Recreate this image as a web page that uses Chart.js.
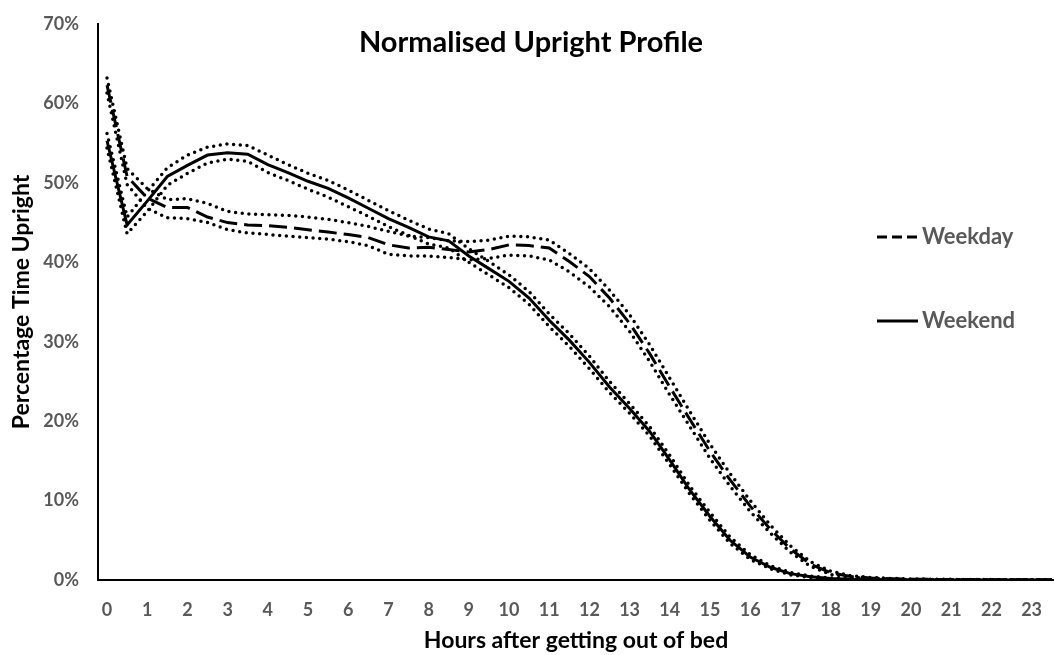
<!DOCTYPE html>
<html>
<head>
<meta charset="utf-8">
<script src="https://cdn.jsdelivr.net/npm/chart.js@4.4.1/dist/chart.umd.min.js"></script>
<style>
  html, body { margin: 0; padding: 0; background: #fff; }
  #wrap { width: 1054px; height: 655px; }
</style>
</head>
<body>
<div id="wrap"><canvas id="myChart"></canvas></div>
<script>
// half-hourly points, hours after getting out of bed
const hours = [0, 0.5, 1, 1.5, 2, 2.5, 3, 3.5, 4, 4.5, 5, 5.5, 6, 6.5, 7, 7.5, 8, 8.5, 9, 9.5,
  10, 10.5, 11, 11.5, 12, 12.5, 13, 13.5, 14, 14.5, 15, 15.5, 16, 16.5, 17, 17.5, 18, 18.5, 19, 19.5,
  20, 20.5, 21, 21.5, 22, 22.5, 23, 23.5];

const xTickLabels = ["0", "1", "2", "3", "4", "5", "6", "7", "8", "9", "10", "11",
  "12", "13", "14", "15", "16", "17", "18", "19", "20", "21", "22", "23"];
const yTickValues = [0, 10, 20, 30, 40, 50, 60, 70];

// % time upright
const weekdayMean = [62.3, 50.8, 48.1, 46.9, 46.9, 45.7, 45.0, 44.7, 44.6, 44.4, 44.1, 43.8, 43.5, 43.1, 42.2, 41.8, 41.9, 41.6, 41.3, 41.6,
  42.2, 42.1, 41.8, 40.1, 38.2, 35.5, 32.3, 28.5, 24.3, 20.2, 16.2, 12.6, 9.3, 6.4, 3.9, 2.0, 0.9, 0.45, 0.25, 0.15,
  0.1, 0.08, 0.06, 0.05, 0.04, 0.03, 0.02, 0.02];
const weekdayUpper = [63.2, 51.8, 49.3, 47.9, 48.0, 47.4, 46.4, 46.1, 46.0, 45.9, 45.7, 45.4, 45.0, 44.5, 43.9, 43.3, 43.1, 42.7, 42.6, 42.8,
  43.3, 43.2, 42.8, 41.1, 39.2, 36.5, 33.4, 29.6, 25.4, 21.2, 17.1, 13.4, 10.0, 6.9, 4.3, 2.3, 1.1, 0.55, 0.3, 0.2,
  0.13, 0.1, 0.08, 0.06, 0.05, 0.04, 0.03, 0.03];
const weekdayLower = [61.3, 49.8, 46.8, 45.6, 45.5, 45.0, 44.1, 43.7, 43.5, 43.3, 43.1, 42.9, 42.6, 42.1, 41.0, 40.8, 40.8, 40.6, 40.3, 40.5,
  40.9, 40.8, 40.3, 38.8, 36.9, 34.4, 31.3, 27.5, 23.3, 19.3, 15.3, 11.8, 8.6, 5.9, 3.5, 1.7, 0.7, 0.35, 0.2, 0.1,
  0.07, 0.05, 0.04, 0.03, 0.02, 0.02, 0.01, 0.01];

const weekendMean = [55.3, 44.7, 47.7, 50.8, 52.2, 53.5, 53.8, 53.6, 52.3, 51.3, 50.2, 49.3, 48.1, 46.8, 45.5, 44.4, 43.2, 42.7, 40.8, 39.2,
  37.6, 35.5, 32.7, 30.2, 27.4, 24.3, 21.6, 18.7, 15.1, 11.3, 8.0, 5.0, 2.9, 1.6, 0.8, 0.4, 0.2, 0.1, 0.05, 0.03,
  0.02, 0.02, 0.01, 0.01, 0.01, 0.01, 0, 0];
const weekendUpper = [56.2, 45.7, 48.9, 51.9, 53.5, 54.5, 54.9, 54.7, 53.5, 52.3, 51.2, 50.3, 49.1, 47.8, 46.5, 45.3, 44.2, 43.6, 41.7, 40.1,
  38.4, 36.3, 33.5, 31.0, 28.2, 25.0, 22.2, 19.3, 15.7, 11.8, 8.5, 5.4, 3.2, 1.8, 0.95, 0.5, 0.25, 0.13, 0.07, 0.05,
  0.03, 0.03, 0.02, 0.02, 0.01, 0.01, 0.01, 0.01];
const weekendLower = [54.4, 43.6, 46.4, 49.7, 51.2, 52.5, 53.0, 52.7, 51.3, 50.3, 49.2, 48.2, 47.0, 45.8, 44.5, 43.4, 42.3, 41.8, 40.0, 38.4,
  36.8, 34.7, 31.9, 29.4, 26.6, 23.6, 21.0, 18.1, 14.5, 10.8, 7.5, 4.6, 2.6, 1.4, 0.65, 0.3, 0.15, 0.07, 0.03, 0.02,
  0.01, 0.01, 0.01, 0, 0, 0, 0, 0];

const chartTitle = "Normalised Upright Profile";
const xTitle = "Hours after getting out of bed";
const yTitle = "Percentage Time Upright";

const FONT = "Lato";
const GREY = "#595959";

const toPoints = (arr) => arr.map((v, i) => ({ x: hours[i], y: v }));

const dotted = (label, arr) => ({
  label: label,
  data: toPoints(arr),
  borderColor: "#000",
  borderWidth: 3.5,
  borderDash: [0, 6.7],
  borderCapStyle: "round",
  pointRadius: 0,
  tension: 0,
  inLegend: false,
});

// title + legend drawn inside the plot area, like the original
const titleAndLegend = {
  id: "titleAndLegend",
  afterDraw(chart) {
    const { ctx, chartArea } = chart;
    ctx.save();
    ctx.fillStyle = "#000";
    ctx.font = `bold 29px ${FONT}`;
    ctx.textAlign = "center";
    ctx.textBaseline = "middle";
    ctx.fillText(chartTitle, chart.width / 2 + 4, chartArea.top + 19);

    const rows = [213, 297]; // offsets from plot top
    const items = chart.data.datasets.filter((d) => d.inLegend);
    items.forEach((d, i) => {
      const y = chartArea.top + rows[i];
      ctx.beginPath();
      ctx.setLineDash(d.borderDash.length ? [10, 5] : []);
      ctx.lineWidth = 3;
      ctx.strokeStyle = "#000";
      ctx.moveTo(chartArea.right - 177, y);
      ctx.lineTo(chartArea.right - 136, y);
      ctx.stroke();
      ctx.setLineDash([]);
      ctx.fillStyle = GREY;
      ctx.font = `bold 22px ${FONT}`;
      ctx.textAlign = "left";
      ctx.fillText(d.label, chartArea.right - 132, y);
    });
    ctx.restore();
  },
};

// invisible tick marks give the label gap without extra scale padding
const hiddenTicks = { display: true, drawOnChartArea: false, drawTicks: true, tickLength: 19, tickColor: "rgba(0,0,0,0)" };

const ctx = document.getElementById("myChart").getContext("2d");
const myChart = new Chart(ctx, {
  type: "line",
  data: {
    datasets: [
      dotted("Weekday upper", weekdayUpper),
      dotted("Weekday lower", weekdayLower),
      {
        label: "Weekday",
        data: toPoints(weekdayMean),
        borderColor: "#000",
        borderWidth: 3,
        borderDash: [18, 7],
        pointRadius: 0,
        tension: 0,
        inLegend: true,
      },
      dotted("Weekend upper", weekendUpper),
      dotted("Weekend lower", weekendLower),
      {
        label: "Weekend",
        data: toPoints(weekendMean),
        borderColor: "#000",
        borderWidth: 3,
        borderDash: [],
        pointRadius: 0,
        tension: 0,
        inLegend: true,
      },
    ],
  },
  options: {
    responsive: true,
    maintainAspectRatio: false,
    animation: false,
    layout: { padding: { top: 24, right: 0, left: 0, bottom: 0 } },
    plugins: {
      legend: { display: false },
      title: { display: false },
      tooltip: { enabled: false },
    },
    scales: {
      x: {
        type: "linear",
        min: -0.224,
        max: 23.557,
        grid: hiddenTicks,
        border: { display: true, color: "#000", width: 2 },
        afterBuildTicks: (scale) => {
          scale.ticks = xTickLabels.map((t) => ({ value: Number(t) }));
        },
        afterFit: (scale) => {
          scale.height = 75;
        },
        ticks: {
          padding: 0,
          color: GREY,
          font: { family: FONT, size: 18, weight: "bold" },
          maxRotation: 0,
          autoSkip: false,
          callback: (v) => String(v),
        },
        title: {
          display: true,
          text: xTitle,
          color: "#000",
          font: { family: FONT, size: 23, weight: "bold" },
          padding: { top: 0, bottom: 1 },
        },
      },
      y: {
        min: 0,
        max: 70,
        grid: hiddenTicks,
        border: { display: true, color: "#000", width: 2 },
        afterBuildTicks: (scale) => {
          scale.ticks = yTickValues.map((v) => ({ value: v }));
        },
        afterFit: (scale) => {
          scale.width = 98;
        },
        ticks: {
          padding: 0,
          color: GREY,
          font: { family: FONT, size: 18, weight: "bold" },
          callback: (v) => v + "%",
        },
        title: {
          display: true,
          text: yTitle,
          color: "#000",
          font: { family: FONT, size: 23, weight: "bold" },
          padding: { top: 8, bottom: 0 },
        },
      },
    },
  },
  plugins: [titleAndLegend],
});
</script>
</body>
</html>
